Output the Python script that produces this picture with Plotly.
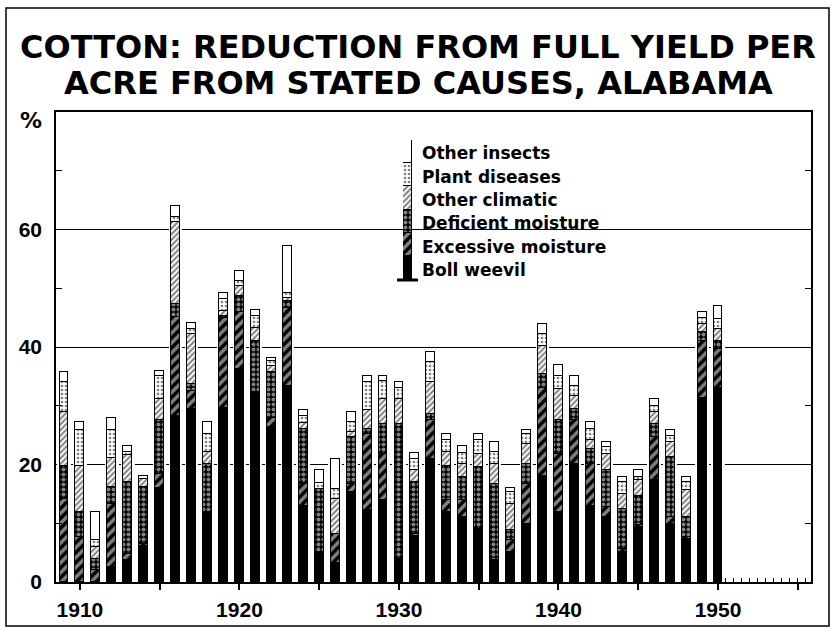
import plotly.graph_objects as go

years = list(range(1909, 1951))
boll_weevil = [0, 0, 0, 2.5, 3.8, 6.2, 16.0, 28.3, 29.4, 11.9,
               29.7, 36.2, 32.3, 26.3, 33.4, 13.0, 5.1, 3.3, 15.3, 12.2,
               13.9, 4.0, 7.8, 20.9, 11.9, 11.0, 9.1, 3.7, 5.1, 9.9,
               18.1, 11.9, 20.1, 13.0, 11.0, 5.1, 9.3, 17.3, 9.9, 7.4,
               31.4, 33.1]
excessive_moisture = [14.1, 7.6, 2.0, 10.8, 0.9, 0.3, 2.4, 16.8, 3.1, 0,
                      15.2, 9.8, 0, 1.7, 13.3, 3.7, 0, 4.9, 1.4, 13.0,
                      7.9, 0, 0.4, 6.7, 2.0, 2.9, 0, 0, 2.0, 6.8,
                      15.0, 9.9, 7.4, 7.1, 1.7, 0.5, 0.4, 7.3, 1.1, 0.2,
                      9.6, 6.5]
deficient_moisture = [5.7, 4.3, 2.0, 2.8, 12.4, 9.6, 9.1, 2.3, 1.2, 8.2,
                      0.4, 2.7, 8.7, 7.7, 1.2, 9.4, 10.8, 0, 7.9, 0.8,
                      5.1, 22.9, 8.8, 1.0, 5.9, 3.9, 10.4, 13.0, 1.7, 3.4,
                      2.3, 5.7, 1.9, 2.5, 6.3, 6.9, 5.0, 2.3, 10.2, 3.4,
                      1.5, 1.4]
other_climatic = [9.1, 7.9, 1.9, 5.0, 4.5, 1.5, 3.6, 13.8, 8.5, 2.0,
                  0.8, 1.6, 2.3, 1.1, 0.5, 1.0, 0, 5.9, 0.9, 3.2,
                  4.2, 4.2, 2.0, 5.4, 2.3, 2.3, 2.3, 3.4, 4.5, 3.4,
                  4.8, 5.3, 2.3, 1.5, 2.8, 2.5, 2.6, 2.0, 2.6, 4.6,
                  1.5, 2.0]
plant_diseases = [5.1, 6.1, 1.3, 4.8, 0.5, 0, 4.0, 1.0, 0.8, 3.1,
                  2.0, 1.0, 2.0, 0.8, 0.8, 1.1, 1.0, 1.8, 1.7, 4.8,
                  3.1, 2.0, 1.9, 3.4, 2.0, 1.9, 2.3, 2.0, 2.0, 1.7,
                  2.0, 2.3, 1.7, 1.9, 1.1, 2.0, 0.5, 1.1, 1.1, 1.4,
                  0.9, 1.7]
other_insects = [1.8, 1.3, 4.7, 2.1, 1.0, 0.4, 0.8, 1.8, 1.1, 2.1,
                 1.1, 1.7, 1.0, 0.6, 8.0, 1.0, 2.1, 5.0, 1.8, 1.1,
                 0.9, 1.0, 1.0, 1.7, 1.1, 1.1, 1.1, 1.8, 0.7, 0.7,
                 1.8, 1.8, 1.7, 1.2, 1.0, 0.8, 1.2, 1.1, 1.0, 0.8,
                 1.1, 2.2]

series_names = ["Boll weevil", "Excessive moisture", "Deficient moisture",
                "Other climatic", "Plant diseases", "Other insects"]
series_values = [boll_weevil, excessive_moisture, deficient_moisture,
                 other_climatic, plant_diseases, other_insects]

y_tick_vals = [0, 20, 40, 60]
y_minor_vals = [10, 30, 50, 70]
x_tick_vals = list(range(1910, 1956, 5))
x_tick_text = ["1910", "", "1920", "", "1930", "", "1940", "", "1950", ""]
extra_year_ticks = [1950.5 + 0.5 * k for k in range(11)]

totals = [sum(v) for v in zip(*series_values)]

styles = {
    "Boll weevil": dict(color="black"),
    "Excessive moisture": dict(color="black",
                               pattern=dict(shape="/", fgcolor="white", bgcolor="black",
                                            size=7, solidity=0.5)),
    "Deficient moisture": dict(color="black",
                               pattern=dict(shape=".", fgcolor="white", bgcolor="black",
                                            size=5, solidity=0.5)),
    "Other climatic": dict(color="white",
                           pattern=dict(shape="/", fgcolor="black", bgcolor="white",
                                        size=4, solidity=0.5)),
    "Plant diseases": dict(color="white",
                           pattern=dict(shape=".", fgcolor="black", bgcolor="white",
                                        size=4, solidity=0.35)),
    "Other insects": dict(color="white"),
}

fig = go.Figure()

# white halo behind bars (clears grid lines around the bars)
fig.add_trace(go.Bar(x=years, y=totals, width=0.85, marker=dict(color="white", line=dict(width=0)),
                     xaxis="x", yaxis="y", showlegend=False, hoverinfo="skip"))

for name, vals in zip(series_names, series_values):
    st = styles[name]
    marker = dict(color=st["color"], line=dict(color="black", width=1))
    if "pattern" in st:
        marker["pattern"] = st["pattern"]
    fig.add_trace(go.Bar(x=years, y=vals, name=name, width=0.56, marker=marker,
                         xaxis="x3", yaxis="y3", showlegend=False))

# legend swatch (stacked bar of equal parts)
for name in series_names:
    st = styles[name]
    marker = dict(color=st["color"], line=dict(color="black", width=1))
    if "pattern" in st:
        marker["pattern"] = dict(st["pattern"])
    fig.add_trace(go.Bar(x=[0], y=[1], width=1, marker=marker, xaxis="x2", yaxis="y2",
                         showlegend=False, hoverinfo="skip"))

W, H = 837, 635
L, R, T, B = 56, 26, 112, 53
pw, ph = W - L - R, H - T - B


def px(xp):
    return (xp - L) / pw


def py(yp):
    return (H - B - yp) / ph


tick_font = dict(family="Liberation Sans", size=21, color="black", weight="bold")

fig.update_layout(
    width=W, height=H,
    margin=dict(l=L, r=R, t=T, b=B, autoexpand=False),
    paper_bgcolor="white", plot_bgcolor="white",
    barmode="stack", bargap=0,
    xaxis=dict(range=[1908.5, 1955.83], tickvals=x_tick_vals, ticktext=x_tick_text,
               ticks="outside", ticklen=6, tickwidth=1.5, tickcolor="black",
               showline=True, linecolor="black", linewidth=1.5, mirror=True,
               showgrid=False, zeroline=False, tickfont=tick_font, ticklabelstandoff=2),
    yaxis=dict(range=[0, 80], tickvals=y_tick_vals, ticks="", showline=True,
               linecolor="black", linewidth=1.5, mirror="ticks",
               showgrid=True, gridcolor="black", gridwidth=1.2, zeroline=False,
               tickfont=tick_font, ticklabelstandoff=8,
               minor=dict(tickvals=y_minor_vals, ticks="inside", ticklen=6,
                          tickcolor="black", tickwidth=1.2, showgrid=False)),
    xaxis3=dict(range=[1908.5, 1955.83], overlaying="x", anchor="y3", side="bottom",
                tickvals=extra_year_ticks, ticks="inside", ticklen=4, tickwidth=1,
                tickcolor="black", showticklabels=False, showgrid=False,
                zeroline=False, showline=False),
    yaxis3=dict(range=[0, 80], overlaying="y", visible=False),
    xaxis2=dict(domain=[px(403), px(412)], range=[-0.5, 0.5], anchor="y2", visible=False),
    yaxis2=dict(domain=[py(279), py(140)], range=[0, 6], anchor="x2", visible=False),
    showlegend=False,
)

shapes = [
    dict(type="rect", xref="paper", yref="paper", x0=px(396), x1=px(619),
         y0=py(236), y1=py(222), fillcolor="white", line=dict(width=0), layer="between"),
    dict(type="line", xref="paper", yref="paper", x0=px(397), x1=px(418),
         y0=py(280), y1=py(280), line=dict(color="black", width=3)),
    dict(type="rect", xref="paper", yref="paper", x0=px(6), x1=px(829),
         y0=py(626), y1=py(8), line=dict(color="black", width=1.5)),
]
fig.update_layout(shapes=shapes)

title_font = dict(family="DejaVu Sans", size=32, color="black", weight="bold")
annotations = [
    dict(text="COTTON: REDUCTION FROM FULL YIELD PER", x=px(418), y=py(47),
         xref="paper", yref="paper", showarrow=False, xanchor="center", yanchor="middle",
         font=title_font),
    dict(text="ACRE FROM STATED CAUSES, ALABAMA", x=px(418), y=py(83),
         xref="paper", yref="paper", showarrow=False, xanchor="center", yanchor="middle",
         font=title_font),
    dict(text="%", x=px(31), y=py(120), xref="paper", yref="paper", showarrow=False,
         xanchor="center", yanchor="middle",
         font=dict(family="DejaVu Sans", size=22, color="black", weight="bold")),
]
legend_rows_y = [153, 177, 200, 223, 247, 270]
legend_font = dict(family="DejaVu Sans", size=17, color="black", weight="bold")
for name, yy in zip(reversed(series_names), legend_rows_y):
    annotations.append(dict(text=name, x=px(420), y=py(yy), xref="paper", yref="paper",
                            showarrow=False, xanchor="left", yanchor="middle",
                            font=legend_font))
fig.update_layout(annotations=annotations)

fig.write_html("out.html", config={"displayModeBar": False},
               post_script="document.body.style.margin='0px';document.body.style.overflow='hidden';")
